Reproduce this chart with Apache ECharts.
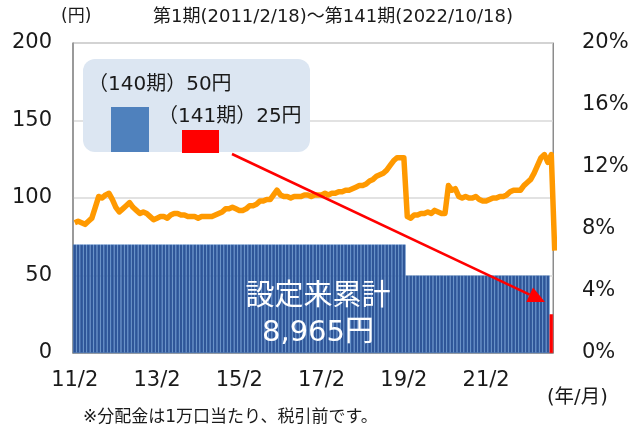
<!DOCTYPE html>
<html>
<head>
<meta charset="utf-8">
<script src="https://cdn.jsdelivr.net/npm/echarts@6/dist/echarts.min.js"></script>
<style>
  html, body { margin: 0; padding: 0; background: #fff; }
  #chart { width: 629px; height: 428px; }
</style>
</head>
<body>
<div id="chart"></div>
<script>
// 分配金（円）第1期～第141期, one row per year
const dividends = [
  70, 70, 70, 70, 70, 70, 70, 70, 70, 70, 70,                 // 2011/2-12
  70, 70, 70, 70, 70, 70, 70, 70, 70, 70, 70, 70,             // 2012
  70, 70, 70, 70, 70, 70, 70, 70, 70, 70, 70, 70,             // 2013
  70, 70, 70, 70, 70, 70, 70, 70, 70, 70, 70, 70,             // 2014
  70, 70, 70, 70, 70, 70, 70, 70, 70, 70, 70, 70,             // 2015
  70, 70, 70, 70, 70, 70, 70, 70, 70, 70, 70, 70,             // 2016
  70, 70, 70, 70, 70, 70, 70, 70, 70, 70, 70, 70,             // 2017
  70, 70, 70, 70, 70, 70, 70, 70, 70, 70, 70, 70,             // 2018
  70, 70, 50, 50, 50, 50, 50, 50, 50, 50, 50, 50,             // 2019
  50, 50, 50, 50, 50, 50, 50, 50, 50, 50, 50, 50,             // 2020
  50, 50, 50, 50, 50, 50, 50, 50, 50, 50, 50, 50,             // 2021
  50, 50, 50, 50, 50, 50, 50, 50, 25                          // 2022/1-10
];

// 分配金利回り（%）
const yields = [
  8.4, 8.5, 8.4, 8.3, 8.5, 8.7, 9.4, 10.1, 10.0, 10.2, 10.3,
  9.9, 9.4, 9.1, 9.3, 9.5, 9.7, 9.4, 9.2, 9.0, 9.1, 9.0, 8.8,
  8.6, 8.7, 8.8, 8.8, 8.7, 8.9, 9.0, 9.0, 8.9, 8.9, 8.8, 8.8,
  8.8, 8.7, 8.8, 8.8, 8.8, 8.8, 8.9, 9.0, 9.1, 9.3, 9.3, 9.4,
  9.3, 9.2, 9.2, 9.3, 9.5, 9.5, 9.6, 9.8, 9.8, 9.9, 9.9, 10.2,
  10.5, 10.2, 10.1, 10.1, 10.0, 10.1, 10.1, 10.1, 10.2, 10.2, 10.1, 10.2,
  10.2, 10.2, 10.3, 10.2, 10.3, 10.3, 10.4, 10.4, 10.5, 10.5, 10.6, 10.7,
  10.8, 10.8, 10.9, 11.1, 11.2, 11.4, 11.5, 11.6, 11.8, 12.1, 12.4, 12.6,
  12.6, 12.6, 8.8, 8.7, 8.9, 8.9, 9.0, 9.0, 9.1, 9.0, 9.2, 9.1,
  9.0, 9.0, 10.8, 10.5, 10.6, 10.1, 10.0, 10.1, 10.0, 10.0, 10.1, 9.9,
  9.8, 9.8, 9.9, 10.0, 10.0, 10.1, 10.1, 10.2, 10.4, 10.5, 10.5, 10.5,
  10.8, 11.0, 11.2, 11.6, 12.1, 12.6, 12.8, 12.3, 12.8, 6.6
];

// 年/月 categories: 2011/2 ～ 2022/10
const months = [];
for (let y = 2011, m = 2; months.length < dividends.length; m++) {
  if (m > 12) { m = 1; y++; }
  months.push(String(y).slice(2) + '/' + m);
}

const leftTicks = { min: 0, max: 200, interval: 50 };
const rightTicks = { min: 0, max: 20, interval: 4 };

const FONT = "DejaVu Sans, Noto Sans CJK JP, sans-serif";

const barData = dividends.map((v, i) => {
  if (i === dividends.length - 1) {
    return { value: v, itemStyle: { color: '#ff0000', borderColor: '#ff0000' } };
  }
  return v;
});

// arrow from legend box to the last bar
const p0 = [232, 154], p1 = [545, 302];
const dx = p1[0] - p0[0], dy = p1[1] - p0[1];
const len = Math.sqrt(dx * dx + dy * dy);
const ux = dx / len, uy = dy / len;
const headL = 17, headW = 8;
const bx = p1[0] - ux * headL, by = p1[1] - uy * headL;

function txt(x, y, text, size, extra) {
  return {
    type: 'text', x: x, y: y, z: 11,
    style: Object.assign({ text: text, fill: '#1a1a1a', fontSize: size, fontFamily: FONT }, extra || {})
  };
}

const chart = echarts.init(document.getElementById('chart'));
chart.setOption({
  animation: false,
  textStyle: { fontFamily: FONT },
  grid: {
    left: 73, right: 76, top: 43, bottom: 75,
    show: true, borderColor: '#8c8c8c', borderWidth: 1,
    containLabel: false,
    outerBoundsMode: 'none'
  },
  xAxis: {
    type: 'category',
    data: months,
    boundaryGap: true,
    axisLine: { lineStyle: { color: '#8c8c8c', width: 1.5 } },
    axisTick: { interval: 23, length: 7, lineStyle: { color: '#8c8c8c', width: 1.5 } },
    axisLabel: { interval: 23, fontSize: 21, color: '#1a1a1a', margin: 17, fontFamily: FONT }
  },
  yAxis: [
    {
      type: 'value',
      min: leftTicks.min, max: leftTicks.max, interval: leftTicks.interval,
      axisLine: { show: true, lineStyle: { color: '#8c8c8c', width: 1.5 } },
      axisTick: { show: false },
      splitLine: { lineStyle: { color: '#d9d9d9', width: 1.5 } },
      axisLabel: { fontSize: 21, color: '#1a1a1a', margin: 21, fontFamily: FONT }
    },
    {
      type: 'value',
      min: rightTicks.min, max: rightTicks.max, interval: rightTicks.interval,
      axisLine: { show: true, lineStyle: { color: '#8c8c8c', width: 1 } },
      axisTick: { show: false },
      splitLine: { show: false },
      axisLabel: { formatter: '{value}%', fontSize: 21, color: '#1a1a1a', margin: 29, fontFamily: FONT }
    }
  ],
  series: [
    {
      name: '分配金',
      type: 'bar',
      data: barData,
      barCategoryGap: '0%',
      itemStyle: { color: '#2f5597', borderColor: '#4a80c6', borderWidth: 0.5 },
      z: 2
    },
    {
      name: '分配金利回り',
      type: 'line',
      yAxisIndex: 1,
      data: yields,
      showSymbol: false,
      lineStyle: { color: '#ff9900', width: 5.5, join: 'round' },
      itemStyle: { color: '#ff9900' },
      z: 3
    }
  ],
  graphic: [
    txt(333, 17, '第1期(2011/2/18)～第141期(2022/10/18)', 18, { align: 'center', verticalAlign: 'middle' }),
    txt(61, 8, '(円)', 17),
    txt(547, 388, '(年/月)', 19.5),
    txt(83, 409, '※分配金は1万口当たり、税引前です。', 17),
    // legend box
    { type: 'rect', shape: { x: 83, y: 59, width: 227, height: 93, r: 12 },
      style: { fill: '#dce6f2' }, z: 10 },
    txt(88, 75, '（140期）50円', 20),
    { type: 'rect', shape: { x: 111, y: 107, width: 38, height: 45 },
      style: { fill: '#4f81bd' }, z: 11 },
    txt(158, 107, '（141期）25円', 20),
    { type: 'rect', shape: { x: 182, y: 130, width: 37, height: 23 },
      style: { fill: '#ff0000' }, z: 11 },
    // arrow
    { type: 'line', shape: { x1: p0[0], y1: p0[1], x2: bx, y2: by },
      style: { stroke: '#ff0000', lineWidth: 2.5 }, z: 12 },
    { type: 'polygon', z: 12,
      shape: { points: [p1, [bx - uy * headW, by + ux * headW], [bx + uy * headW, by - ux * headW]] },
      style: { fill: '#ff0000' } },
    // cumulative total
    txt(318, 297, '設定来累計', 29, { fill: '#ffffff', align: 'center', verticalAlign: 'middle' }),
    txt(318, 333, '8,965円', 29, { fill: '#ffffff', align: 'center', verticalAlign: 'middle' })
  ]
});
</script>
</body>
</html>
